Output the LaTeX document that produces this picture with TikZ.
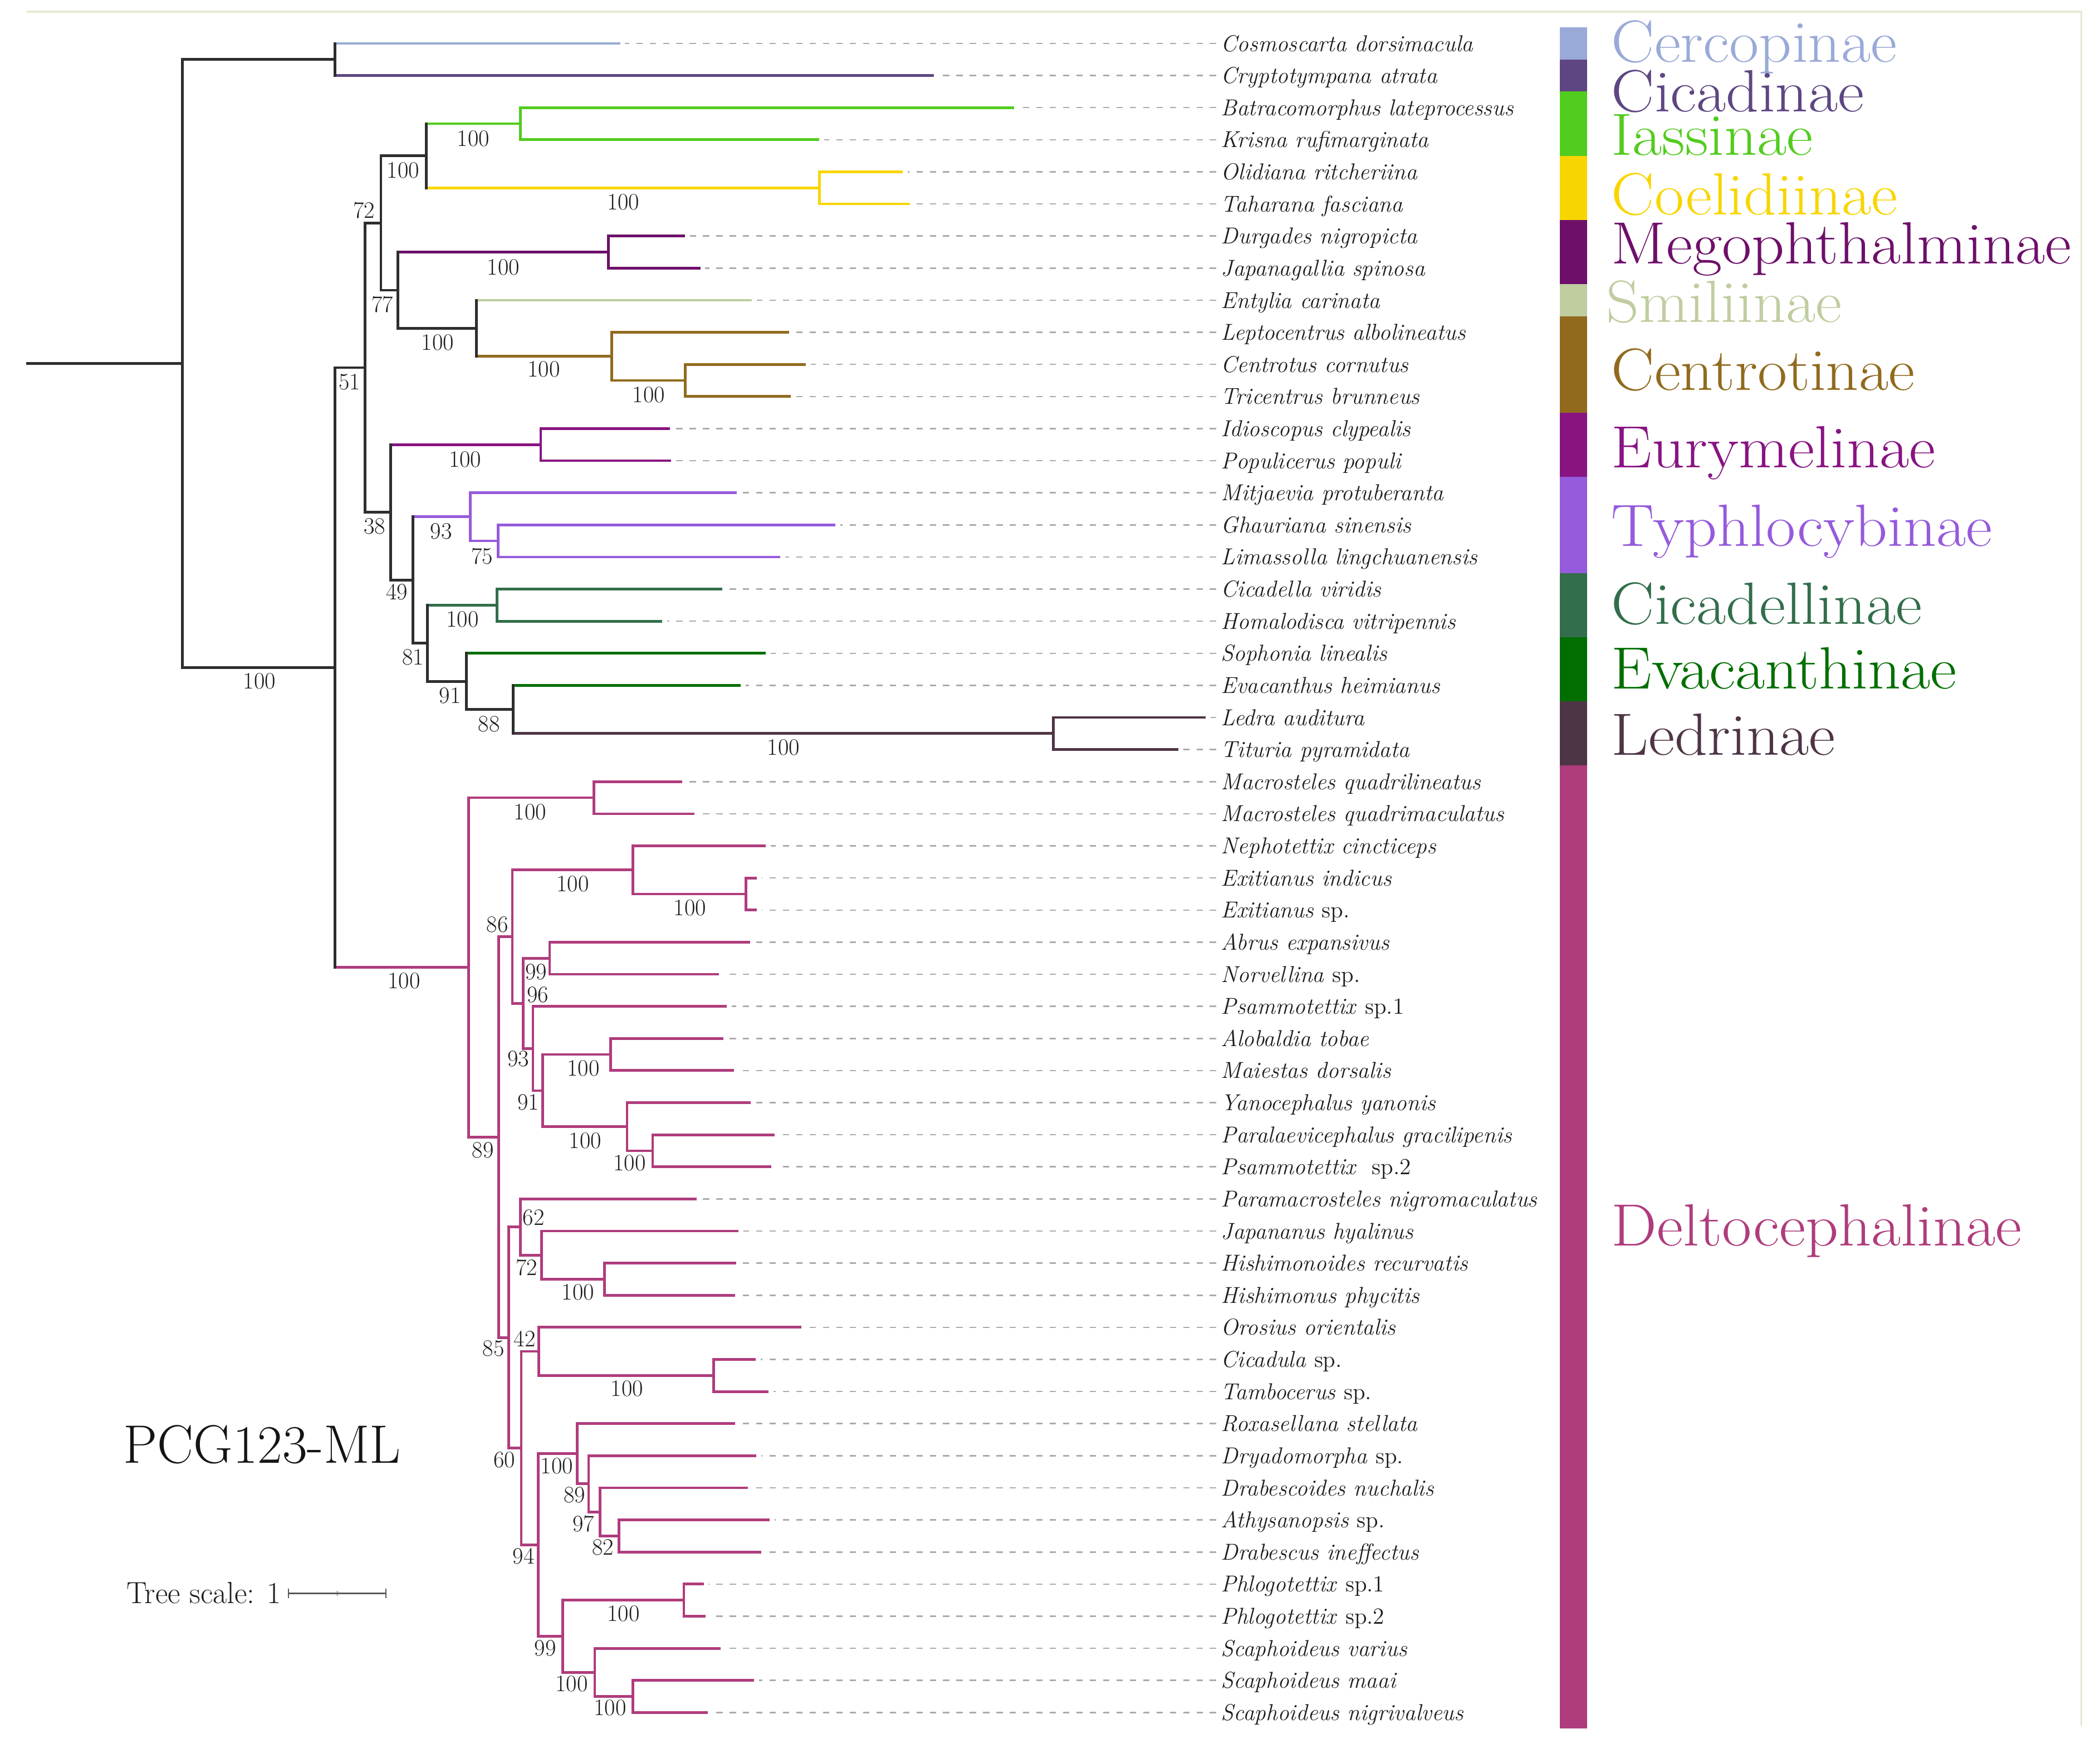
\documentclass[tikz,border=0pt]{standalone}
\usepackage{fontspec}
\definecolor{blk}{HTML}{2E2E2E}
\definecolor{cercc}{HTML}{9AAAD8}
\definecolor{cicadc}{HTML}{5E4682}
\definecolor{iassc}{HTML}{52CC1E}
\definecolor{coelc}{HTML}{F8D500}
\definecolor{megoc}{HTML}{6E0F6A}
\definecolor{smilc}{HTML}{BFCDA0}
\definecolor{centc}{HTML}{916A1E}
\definecolor{euryc}{HTML}{881482}
\definecolor{typhc}{HTML}{965ADC}
\definecolor{cicac}{HTML}{326E4B}
\definecolor{evacc}{HTML}{006E00}
\definecolor{ledrc}{HTML}{4E3546}
\definecolor{deltc}{HTML}{AF3C7D}
\definecolor{leadg}{HTML}{ABABAB}
\definecolor{framec}{HTML}{E8E6D6}
\definecolor{txt}{HTML}{1E1E1E}
\tikzset{
  br/.style={line width=1.7pt, line cap=rect},
  lead/.style={draw=leadg, line width=0.9pt, dash pattern=on 4pt off 4.5pt},
  leaf/.style={anchor=west, inner xsep=3pt, inner ysep=0pt, text height=10pt, text depth=0pt,
    font=\fontsize{14.7}{16}\selectfont\itshape, text=txt},
  bs/.style={inner sep=0pt, text height=9.7pt, text depth=0pt, font=\fontsize{15}{17}\selectfont, text=txt},
  leg/.style={anchor=base west, inner sep=0pt, text height=26pt, text depth=0pt, font=\fontsize{38}{40}\selectfont},
}
\newcommand\legtxt[1]{\scalebox{1.08}[1]{#1}}
\newcommand\brh[3]{\draw[br,#1] (#2 |- #3) -- (#3);}
\newcommand\brv[4]{\draw[br,#1] (#2 |- #3) -- (#2 |- #4);}
\newcommand\cl[4]{\brh{#1}{#2}{#3}\brh{#1}{#2}{#4}\brv{#1}{#2}{#3}{#4}}
\begin{document}
\begin{tikzpicture}[x=0.03cm,y=-0.03cm]
\useasboundingbox (0,0) rectangle (1568,1316);
% frame
\coordinate (f1) at (20,8.6);
\coordinate (f2) at (1554,8.6);
\coordinate (f3) at (1554,1288);
\draw[framec, line width=1.3pt] (f1) -- (f2) -- (f3);

% leaves
\foreach \i/\tx/\lab in {
1/462/{Cosmoscarta dorsimacula},
2/696.3/{Cryptotympana atrata},
3/756.3/{Batracomorphus lateprocessus},
4/610.6/{Krisna rufimarginata},
5/672.9/{Olidiana ritcheriina},
6/678.3/{Taharana fasciana},
7/510.6/{Durgades nigropicta},
8/521.9/{Japanagallia spinosa},
9/560.2/{Entylia carinata},
10/588.1/{Leptocentrus albolineatus},
11/600.7/{Centrotus cornutus},
12/589.5/{Tricentrus brunneus},
13/499.3/{Idioscopus clypealis},
14/500.2/{Populicerus populi},
15/548.9/{Mitjaevia protuberanta},
16/622.8/{Ghauriana sinensis},
17/581.4/{Limassolla lingchuanensis},
18/538.5/{Cicadella viridis},
19/493.4/{Homalodisca vitripennis},
20/570.9/{Sophonia linealis},
21/552/{Evacanthus heimianus},
22/899.1/{Ledra auditura},
23/878.9/{Tituria pyramidata},
24/508.3/{Macrosteles quadrilineatus},
25/517.3/{Macrosteles quadrimaculatus},
26/570.8/{Nephotettix cincticeps},
27/564.2/{Exitianus indicus},
28/564.2/{Exitianus \textup{sp.}},
29/558.9/{Abrus expansivus},
30/535.6/{Norvellina \textup{sp.}},
31/541.7/{Psammotettix \textup{sp.1}},
32/539/{Alobaldia tobae},
33/547/{Maiestas dorsalis},
34/559.7/{Yanocephalus yanonis},
35/577.5/{Paralaevicephalus gracilipenis},
36/574.8/{Psammotettix\ \ \textup{sp.2}},
37/519.1/{Paramacrosteles nigromaculatus},
38/550.4/{Japananus hyalinus},
39/548.8/{Hishimonoides recurvatis},
40/547.8/{Hishimonus phycitis},
41/597.3/{Orosius orientalis},
42/563.4/{Cicadula \textup{sp.}},
43/572.7/{Tambocerus \textup{sp.}},
44/547.7/{Roxasellana stellata},
45/563.7/{Dryadomorpha \textup{sp.}},
46/557.5/{Drabescoides nuchalis},
47/573.5/{Athysanopsis \textup{sp.}},
48/567.4/{Drabescus ineffectus},
49/524.4/{Phlogotettix \textup{sp.1}},
50/525.8/{Phlogotettix \textup{sp.2}},
51/537.1/{Scaphoideus varius},
52/562.1/{Scaphoideus maai},
53/527.6/{Scaphoideus nigrivalveus}} {
  \pgfmathsetmacro\yy{32.4+(\i-1)*23.96}
  \coordinate (t\i) at (\tx,\yy);
  \node[leaf] (L\i) at (908,\yy) {\lab};
  \draw[lead] (L\i.west) -- ([xshift=4pt]t\i);
}

% internal nodes
\coordinate (rs) at (20.7,271.34);
\coordinate (r) at (136.2,271.34);
\coordinate (o) at (250,44.38);
\coordinate (m) at (250,498.29);
\coordinate (a51) at (272.4,274.44);
\coordinate (a72) at (284.4,166.43);
\coordinate (a100a) at (318.2,116.26);
\coordinate (iass) at (388.5,92.3);
\coordinate (coel) at (612,140.22);
\coordinate (a77) at (297.2,216.6);
\coordinate (mego) at (454.4,188.14);
\coordinate (memb) at (355.8,245.05);
\coordinate (cent) at (456.8,266.01);
\coordinate (ct) at (511.5,283.98);
\coordinate (a38) at (291.6,382.44);
\coordinate (eury) at (403.7,331.9);
\coordinate (a49) at (308.3,432.98);
\coordinate (typh) at (351.2,385.81);
\coordinate (ty75) at (371.9,403.78);
\coordinate (a81) at (319,480.15);
\coordinate (cica) at (371.1,451.7);
\coordinate (a91) at (348.1,508.6);
\coordinate (a88) at (383.1,529.57);
\coordinate (ledr) at (786.4,547.54);
\coordinate (delt) at (350,722.14);
\coordinate (mac) at (443.5,595.46);
\coordinate (d89) at (372.5,848.82);
\coordinate (d86) at (382.5,699.16);
\coordinate (neph) at (472.7,649.37);
\coordinate (exit) at (557,667.34);
\coordinate (dA) at (390.5,748.96);
\coordinate (d99) at (410.4,715.26);
\coordinate (dB) at (397.9,782.65);
\coordinate (dC) at (405.1,814.1);
\coordinate (am) at (456,787.14);
\coordinate (yp) at (468.2,841.05);
\coordinate (pp) at (487.3,859.02);
\coordinate (d85) at (379.9,998.48);
\coordinate (d62) at (388.6,915.93);
\coordinate (d72) at (404.3,936.89);
\coordinate (hishi) at (451.5,954.86);
\coordinate (d60) at (389.2,1081.03);
\coordinate (d42) at (402.4,1008.77);
\coordinate (ctb) at (532.9,1026.74);
\coordinate (d94) at (401.9,1153.28);
\coordinate (d100) at (431.1,1085.14);
\coordinate (d89b) at (439.5,1107.6);
\coordinate (d97) at (448.1,1128.57);
\coordinate (d82) at (462.1,1146.54);
\coordinate (d99b) at (420.2,1221.42);
\coordinate (phl) at (510.6,1194.46);
\coordinate (sc) at (444.1,1248.37);
\coordinate (sc2) at (472.7,1266.34);

% upper tree
\draw[br,blk] (rs) -- (r);
\brh{blk}{r}{o} \brh{blk}{r}{m}
\brh{cercc}{o}{t1} \brh{cicadc}{o}{t2}
\brh{blk}{m}{a51} \brh{deltc}{m}{delt}
\brh{blk}{a51}{a72} \brh{blk}{a51}{a38}
\brh{blk}{a72}{a100a} \brh{blk}{a72}{a77}
\brh{iassc}{a100a}{iass} \brh{coelc}{a100a}{coel}
\cl{iassc}{iass}{t3}{t4}
\cl{coelc}{coel}{t5}{t6}
\brh{megoc}{a77}{mego} \brh{blk}{a77}{memb}
\cl{megoc}{mego}{t7}{t8}
\brh{smilc}{memb}{t9} \brh{centc}{memb}{cent}
\cl{centc}{cent}{t10}{ct}
\cl{centc}{ct}{t11}{t12}
\brh{euryc}{a38}{eury} \brh{blk}{a38}{a49}
\cl{euryc}{eury}{t13}{t14}
\brh{typhc}{a49}{typh} \brh{blk}{a49}{a81}
\cl{typhc}{typh}{t15}{ty75}
\cl{typhc}{ty75}{t16}{t17}
\brh{cicac}{a81}{cica} \brh{blk}{a81}{a91}
\cl{cicac}{cica}{t18}{t19}
\brh{evacc}{a91}{t20} \brh{blk}{a91}{a88}
\brh{evacc}{a88}{t21} \brh{ledrc}{a88}{ledr}
\cl{ledrc}{ledr}{t22}{t23}
% black verticals
\brv{blk}{r}{o}{m}
\brv{blk}{o}{t1}{t2}
\brv{blk}{m}{a51}{delt}
\brv{blk}{a51}{a72}{a38}
\brv{blk}{a72}{a100a}{a77}
\brv{blk}{a100a}{iass}{coel}
\brv{blk}{a77}{mego}{memb}
\brv{blk}{memb}{t9}{cent}
\brv{blk}{a38}{eury}{a49}
\brv{blk}{a49}{typh}{a81}
\brv{blk}{a81}{cica}{a91}
\brv{blk}{a91}{t20}{a88}
\brv{blk}{a88}{t21}{ledr}

% Deltocephalinae
\cl{deltc}{delt}{mac}{d89}
\cl{deltc}{mac}{t24}{t25}
\cl{deltc}{d89}{d86}{d85}
\cl{deltc}{d86}{neph}{dA}
\cl{deltc}{neph}{t26}{exit}
\cl{deltc}{exit}{t27}{t28}
\cl{deltc}{dA}{d99}{dB}
\cl{deltc}{d99}{t29}{t30}
\cl{deltc}{dB}{t31}{dC}
\cl{deltc}{dC}{am}{yp}
\cl{deltc}{am}{t32}{t33}
\cl{deltc}{yp}{t34}{pp}
\cl{deltc}{pp}{t35}{t36}
\cl{deltc}{d85}{d62}{d60}
\cl{deltc}{d62}{t37}{d72}
\cl{deltc}{d72}{t38}{hishi}
\cl{deltc}{hishi}{t39}{t40}
\cl{deltc}{d60}{d42}{d94}
\cl{deltc}{d42}{t41}{ctb}
\cl{deltc}{ctb}{t42}{t43}
\cl{deltc}{d94}{d100}{d99b}
\cl{deltc}{d100}{t44}{d89b}
\cl{deltc}{d89b}{t45}{d97}
\cl{deltc}{d97}{t46}{d82}
\cl{deltc}{d82}{t47}{t48}
\cl{deltc}{d99b}{phl}{sc}
\cl{deltc}{phl}{t49}{t50}
\cl{deltc}{sc}{t51}{sc2}
\cl{deltc}{sc2}{t52}{t53}

% bootstrap values
\foreach \bx/\by/\bt [count=\k] in {
353.4/103.3/100, 465.4/151/100, 301/127.3/100, 271.7/157/72, 285.5/227.4/77,
375.8/199.4/100, 326.8/255.6/100, 406.1/275.8/100, 484.4/294.9/100, 261/285.3/51,
193.7/508.5/100, 279.6/392.9/38, 347.3/343.1/100, 329.4/396.5/93, 360/415.2/75,
296.3/442.1/49, 345.3/462.5/100, 308.3/490.5/81, 336.1/519.1/91, 365.2/540.3/88,
585/557.9/100, 395.8/606.1/100, 301.7/732/100, 371.4/690.2/86, 427.6/659.7/100,
515.1/677.6/100, 400.3/725.6/99, 401.6/742.7/96, 387/790.5/93, 394.5/822.7/91,
435.6/797.6/100, 436.9/851.4/100, 470/868/100, 360.5/858.5/89, 398.5/908.8/62,
393.1/946.4/72, 431.6/964.5/100, 368.5/1006.4/85, 391.8/999.4/42, 468.2/1036.5/100,
376.5/1089.8/60, 415.7/1094.4/100, 428.9/1115.9/89, 435.6/1137.4/97, 450.2/1154.9/82,
391/1161.6/94, 465.5/1204.6/100, 407.2/1230.2/99, 426.8/1257/100, 455.5/1274.6/100} {
  \node[bs] (b\k) at (\bx,\by) {\bt};
}

% colour strip
\foreach \c/\ya/\yb in {
cercc/20.42/44.38, cicadc/44.38/68.34, iassc/68.34/116.26, coelc/116.26/164.18,
megoc/164.18/212.1, smilc/212.1/236.06, centc/236.06/307.94, euryc/307.94/355.86,
typhc/355.86/427.74, cicac/427.74/475.66, evacc/475.66/523.58, ledrc/523.58/571.5,
deltc/571.5/1290.3} {
  \fill[\c] (1164.5,\ya) rectangle (1185,\yb);
}

% legend
\node[leg, text=cercc] (g1) at (1203,46.4) {\legtxt{Cercopinae}};
\node[leg, text=cicadc] (g2) at (1203,83.5) {\legtxt{Cicadinae}};
\node[leg, text=iassc] (g3) at (1203,115.8) {\legtxt{Iassinae}};
\node[leg, text=coelc] (g4) at (1203,160.4) {\legtxt{Coelidiinae}};
\node[leg, text=megoc] (g5) at (1203,196.7) {\legtxt{Megophthalminae}};
\node[leg, text=smilc] (g6) at (1199,240.5) {\legtxt{Smiliinae}};
\node[leg, text=centc] (g7) at (1203,291.4) {\legtxt{Centrotinae}};
\node[leg, text=euryc] (g8) at (1203,348.9) {\legtxt{Eurymelinae}};
\node[leg, text=typhc] (g9) at (1203,407.6) {\legtxt{Typhlocybinae}};
\node[leg, text=cicac] (g10) at (1203,465.9) {\legtxt{Cicadellinae}};
\node[leg, text=evacc] (g11) at (1203,514.1) {\legtxt{Evacanthinae}};
\node[leg, text=ledrc] (g12) at (1203,563.5) {\legtxt{Ledrinae}};
\node[leg, text=deltc] (g13) at (1203,930) {\legtxt{Deltocephalinae}};

% title and scale
\node[anchor=base west, inner sep=0pt, font=\fontsize{34.5}{36}\selectfont, text=black!92] (title) at (91.9,1092) {PCG123-ML};
\node[anchor=base west, inner sep=0pt, font=\fontsize{19.5}{21}\selectfont, text=txt] (ts) at (94.3,1197) {Tree scale: 1};
\coordinate (sb1) at (215.5,1189.4);
\coordinate (sb2) at (288.1,1189.4);
\coordinate (sbm) at (251.8,1189.4);
\draw[black!65, line width=0.8pt] (sb1) -- (sb2);
\draw[black!65, line width=0.8pt] ([yshift=3pt]sb1) -- ([yshift=-3pt]sb1);
\draw[black!65, line width=0.8pt] ([yshift=3pt]sb2) -- ([yshift=-3pt]sb2);
\draw[black!65, line width=0.6pt] ([yshift=1.5pt]sbm) -- ([yshift=-1.5pt]sbm);
\end{tikzpicture}
\end{document}
